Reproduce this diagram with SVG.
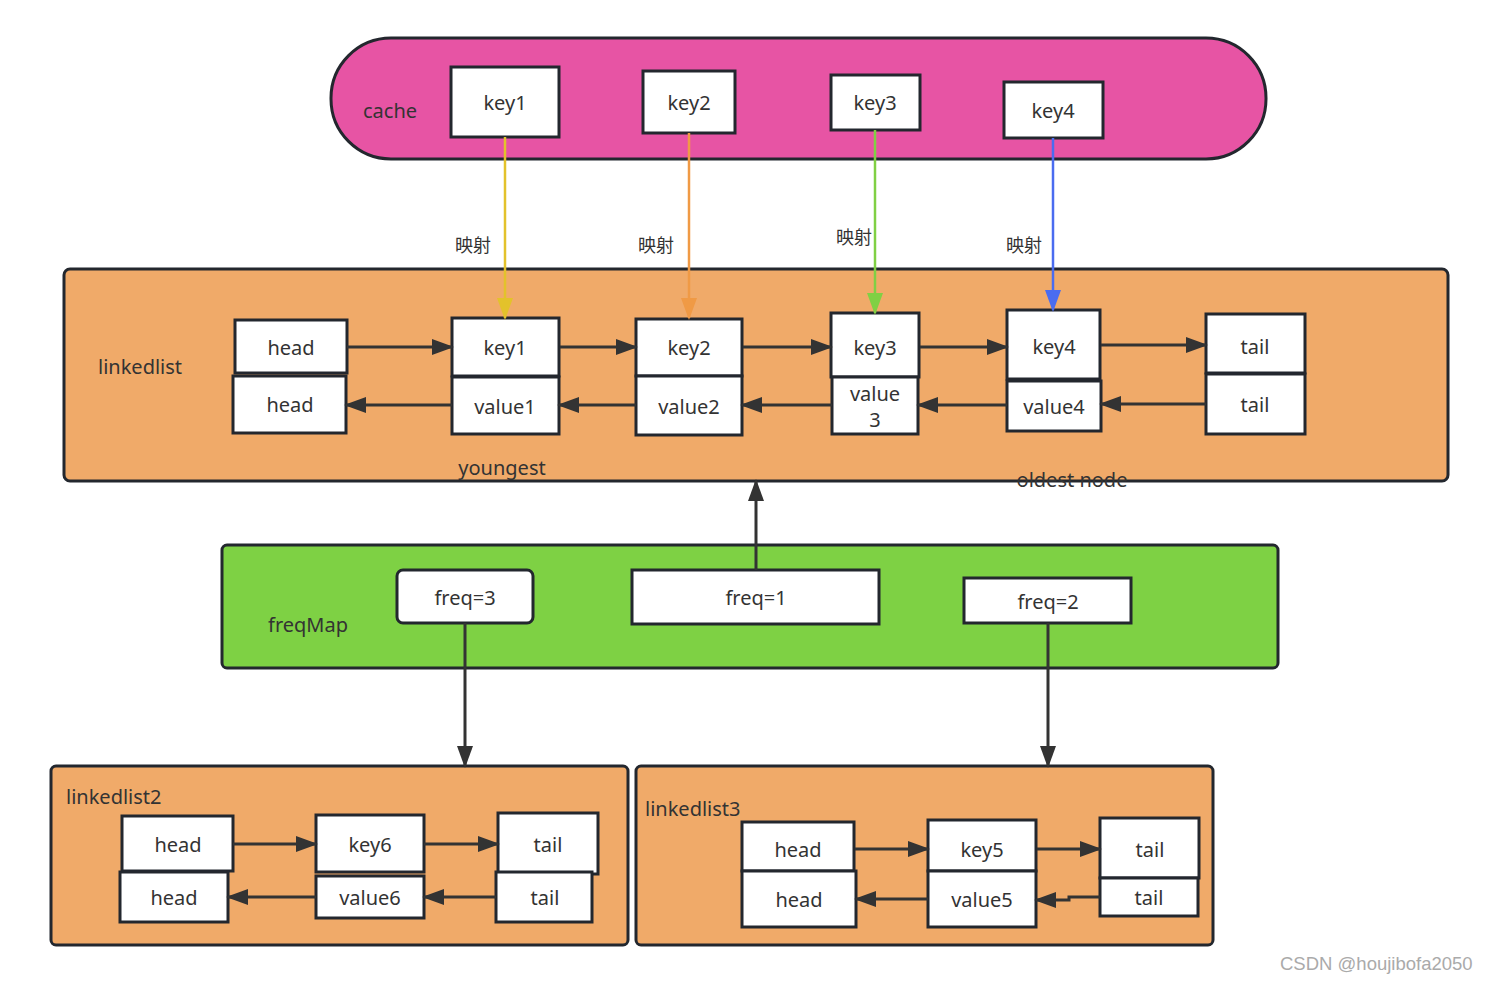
<svg xmlns="http://www.w3.org/2000/svg" width="1485" height="983" viewBox="0 0 1485 983">
<style>
text{font-family:"Noto Sans","Noto Sans CJK SC",sans-serif;fill:#333;}
.n{fill:#fff;stroke:#23272e;stroke-width:3;}
.t{font-size:20px;text-anchor:middle;dominant-baseline:central;}
.lbl{font-size:20px;dominant-baseline:central;}
.c{stroke:#333;stroke-width:3;fill:none;}
.map{font-size:18px;text-anchor:middle;dominant-baseline:central;}
</style>
<defs>
<marker id="ah" markerUnits="userSpaceOnUse" markerWidth="22" markerHeight="16" refX="20" refY="8" orient="auto"><path d="M0,0 L22,8 L0,16 Z" fill="#333"/></marker>
<marker id="ay" markerUnits="userSpaceOnUse" markerWidth="22" markerHeight="16" refX="20" refY="8" orient="auto"><path d="M0,0 L22,8 L0,16 Z" fill="#e3c22b"/></marker>
<marker id="ao" markerUnits="userSpaceOnUse" markerWidth="22" markerHeight="16" refX="20" refY="8" orient="auto"><path d="M0,0 L22,8 L0,16 Z" fill="#f09a45"/></marker>
<marker id="ag" markerUnits="userSpaceOnUse" markerWidth="22" markerHeight="16" refX="20" refY="8" orient="auto"><path d="M0,0 L22,8 L0,16 Z" fill="#80d044"/></marker>
<marker id="ab" markerUnits="userSpaceOnUse" markerWidth="22" markerHeight="16" refX="20" refY="8" orient="auto"><path d="M0,0 L22,8 L0,16 Z" fill="#4a6cf0"/></marker>
</defs>

<g id="cache">
<rect x="331" y="38" width="935" height="121" rx="60" ry="60" fill="#e754a4" stroke="#23272e" stroke-width="3"/>
<text class="lbl" x="363" y="110" font-size="20">cache</text>
</g>
<g id="ckey1"><rect class="n" x="451" y="67" width="108" height="70"/><text class="t" x="505" y="102">key1</text></g>
<g id="ckey2"><rect class="n" x="643" y="71" width="92" height="62"/><text class="t" x="689" y="102">key2</text></g>
<g id="ckey3"><rect class="n" x="831" y="75" width="89" height="55"/><text class="t" x="875" y="102">key3</text></g>
<g id="ckey4"><rect class="n" x="1004" y="82" width="99" height="56"/><text class="t" x="1053" y="110">key4</text></g>

<g id="linkedlist">
<rect x="64" y="269" width="1384" height="212" rx="6" fill="#f0aa69" stroke="#23272e" stroke-width="3"/>
<text class="lbl" x="98" y="366">linkedlist</text>
<text class="t" x="502" y="467">youngest</text>
</g>
<g id="lhead1"><rect class="n" x="235" y="320" width="112" height="53"/><text class="t" x="291" y="347">head</text></g>
<g id="lhead2"><rect class="n" x="233" y="376" width="113" height="57"/><text class="t" x="290" y="404">head</text></g>
<g id="lkey1"><rect class="n" x="452" y="318" width="107" height="58"/><text class="t" x="505" y="347">key1</text></g>
<g id="lval1"><rect class="n" x="452" y="377" width="107" height="57"/><text class="t" x="505" y="406">value1</text></g>
<g id="lkey2"><rect class="n" x="636" y="319" width="106" height="57"/><text class="t" x="689" y="347">key2</text></g>
<g id="lval2"><rect class="n" x="636" y="376" width="106" height="59"/><text class="t" x="689" y="406">value2</text></g>
<g id="lkey3"><rect class="n" x="831" y="313" width="88" height="64"/><text class="t" x="875" y="347">key3</text></g>
<g id="lval3"><rect class="n" x="832" y="377" width="86" height="57"/><text class="t" x="875" y="393" font-size="19"><tspan x="875" y="393">value</tspan><tspan x="875" y="419">3</tspan></text></g>
<g id="lkey4"><rect class="n" x="1007" y="310" width="93" height="69"/><text class="t" x="1054" y="346">key4</text></g>
<g id="lval4"><rect class="n" x="1007" y="381" width="94" height="50"/><text class="t" x="1054" y="406">value4</text></g>
<g id="ltail1"><rect class="n" x="1206" y="314" width="99" height="59"/><text class="t" x="1255" y="346">tail</text></g>
<g id="ltail2"><rect class="n" x="1206" y="374" width="99" height="60"/><text class="t" x="1255" y="404">tail</text></g>
<text id="oldest" class="t" x="1072" y="479">oldest node</text>

<g id="freqMap">
<rect x="222" y="545" width="1056" height="123" rx="5" fill="#7ed144" stroke="#23272e" stroke-width="3"/>
<text class="lbl" x="268" y="624">freqMap</text>
</g>
<g id="freq3"><rect class="n" x="397" y="570" width="136" height="53" rx="6"/><text class="t" x="465" y="597">freq=3</text></g>
<g id="freq1"><rect class="n" x="632" y="570" width="247" height="54"/><text class="t" x="756" y="597">freq=1</text></g>
<g id="freq2"><rect class="n" x="964" y="578" width="167" height="45"/><text class="t" x="1048" y="601">freq=2</text></g>

<g id="linkedlist2">
<rect x="51" y="766" width="577" height="179" rx="5" fill="#f0aa69" stroke="#23272e" stroke-width="3"/>
<text class="lbl" x="66" y="796">linkedlist2</text>
</g>
<g id="l2head1"><rect class="n" x="122" y="816" width="111" height="55"/><text class="t" x="178" y="844">head</text></g>
<g id="l2head2"><rect class="n" x="120" y="872" width="108" height="50"/><text class="t" x="174" y="897">head</text></g>
<g id="l2key6"><rect class="n" x="316" y="815" width="108" height="57"/><text class="t" x="370" y="844">key6</text></g>
<g id="l2val6"><rect class="n" x="316" y="876" width="108" height="42"/><text class="t" x="370" y="897">value6</text></g>
<g id="l2tail1"><rect class="n" x="498" y="813" width="100" height="61"/><text class="t" x="548" y="844">tail</text></g>
<g id="l2tail2"><rect class="n" x="496" y="872" width="96" height="50"/><text class="t" x="545" y="897">tail</text></g>

<g id="linkedlist3">
<rect x="636" y="766" width="577" height="179" rx="5" fill="#f0aa69" stroke="#23272e" stroke-width="3"/>
<text class="lbl" x="645" y="808">linkedlist3</text>
</g>
<g id="l3head1"><rect class="n" x="742" y="822" width="112" height="49"/><text class="t" x="798" y="849">head</text></g>
<g id="l3head2"><rect class="n" x="742" y="871" width="114" height="56"/><text class="t" x="799" y="899">head</text></g>
<g id="l3key5"><rect class="n" x="928" y="820" width="108" height="51"/><text class="t" x="982" y="849">key5</text></g>
<g id="l3val5"><rect class="n" x="928" y="871" width="108" height="56"/><text class="t" x="982" y="899">value5</text></g>
<g id="l3tail1"><rect class="n" x="1100" y="818" width="99" height="60"/><text class="t" x="1150" y="849">tail</text></g>
<g id="l3tail2"><rect class="n" x="1100" y="878" width="98" height="38"/><text class="t" x="1149" y="897">tail</text></g>

<g id="connectors">
<line x1="505" y1="137" x2="505" y2="318" stroke="#e3c22b" stroke-width="2.5" marker-end="url(#ay)"/>
<line x1="689" y1="133" x2="689" y2="318" stroke="#f09a45" stroke-width="2.5" marker-end="url(#ao)"/>
<line x1="875" y1="130" x2="875" y2="313" stroke="#80d044" stroke-width="2.5" marker-end="url(#ag)"/>
<line x1="1053" y1="138" x2="1053" y2="310" stroke="#4a6cf0" stroke-width="2.5" marker-end="url(#ab)"/>
<text class="map" x="473" y="245">映射</text>
<text class="map" x="656" y="245">映射</text>
<text class="map" x="854" y="237">映射</text>
<text class="map" x="1024" y="245">映射</text>

<line class="c" x1="347" y1="347" x2="452" y2="347" marker-end="url(#ah)"/>
<line class="c" x1="560" y1="347" x2="636" y2="347" marker-end="url(#ah)"/>
<line class="c" x1="743" y1="347" x2="831" y2="347" marker-end="url(#ah)"/>
<line class="c" x1="920" y1="347" x2="1007" y2="347" marker-end="url(#ah)"/>
<line class="c" x1="1101" y1="345" x2="1206" y2="345" marker-end="url(#ah)"/>
<line class="c" x1="452" y1="405" x2="346" y2="405" marker-end="url(#ah)"/>
<line class="c" x1="636" y1="405" x2="559" y2="405" marker-end="url(#ah)"/>
<line class="c" x1="832" y1="405" x2="742" y2="405" marker-end="url(#ah)"/>
<line class="c" x1="1007" y1="405" x2="918" y2="405" marker-end="url(#ah)"/>
<line class="c" x1="1206" y1="404" x2="1101" y2="404" marker-end="url(#ah)"/>

<line class="c" x1="756" y1="570" x2="756" y2="481" stroke-width="2.5" marker-end="url(#ah)"/>
<line class="c" x1="465" y1="623" x2="465" y2="766" stroke-width="2.5" marker-end="url(#ah)"/>
<line class="c" x1="1048" y1="623" x2="1048" y2="766" stroke-width="2.5" marker-end="url(#ah)"/>

<line class="c" x1="233" y1="844" x2="316" y2="844" marker-end="url(#ah)"/>
<line class="c" x1="424" y1="844" x2="498" y2="844" marker-end="url(#ah)"/>
<line class="c" x1="316" y1="897" x2="228" y2="897" marker-end="url(#ah)"/>
<line class="c" x1="496" y1="897" x2="424" y2="897" marker-end="url(#ah)"/>

<line class="c" x1="855" y1="849" x2="928" y2="849" marker-end="url(#ah)"/>
<line class="c" x1="1037" y1="849" x2="1100" y2="849" marker-end="url(#ah)"/>
<line class="c" x1="928" y1="899" x2="856" y2="899" marker-end="url(#ah)"/>
<polyline class="c" points="1100,897 1069,897 1069,900 1036,900" marker-end="url(#ah)"/>
</g>

<text x="1280" y="970" font-size="18.5" style="fill:#aaa;font-family:'Liberation Sans',sans-serif">CSDN @houjibofa2050</text>
</svg>
